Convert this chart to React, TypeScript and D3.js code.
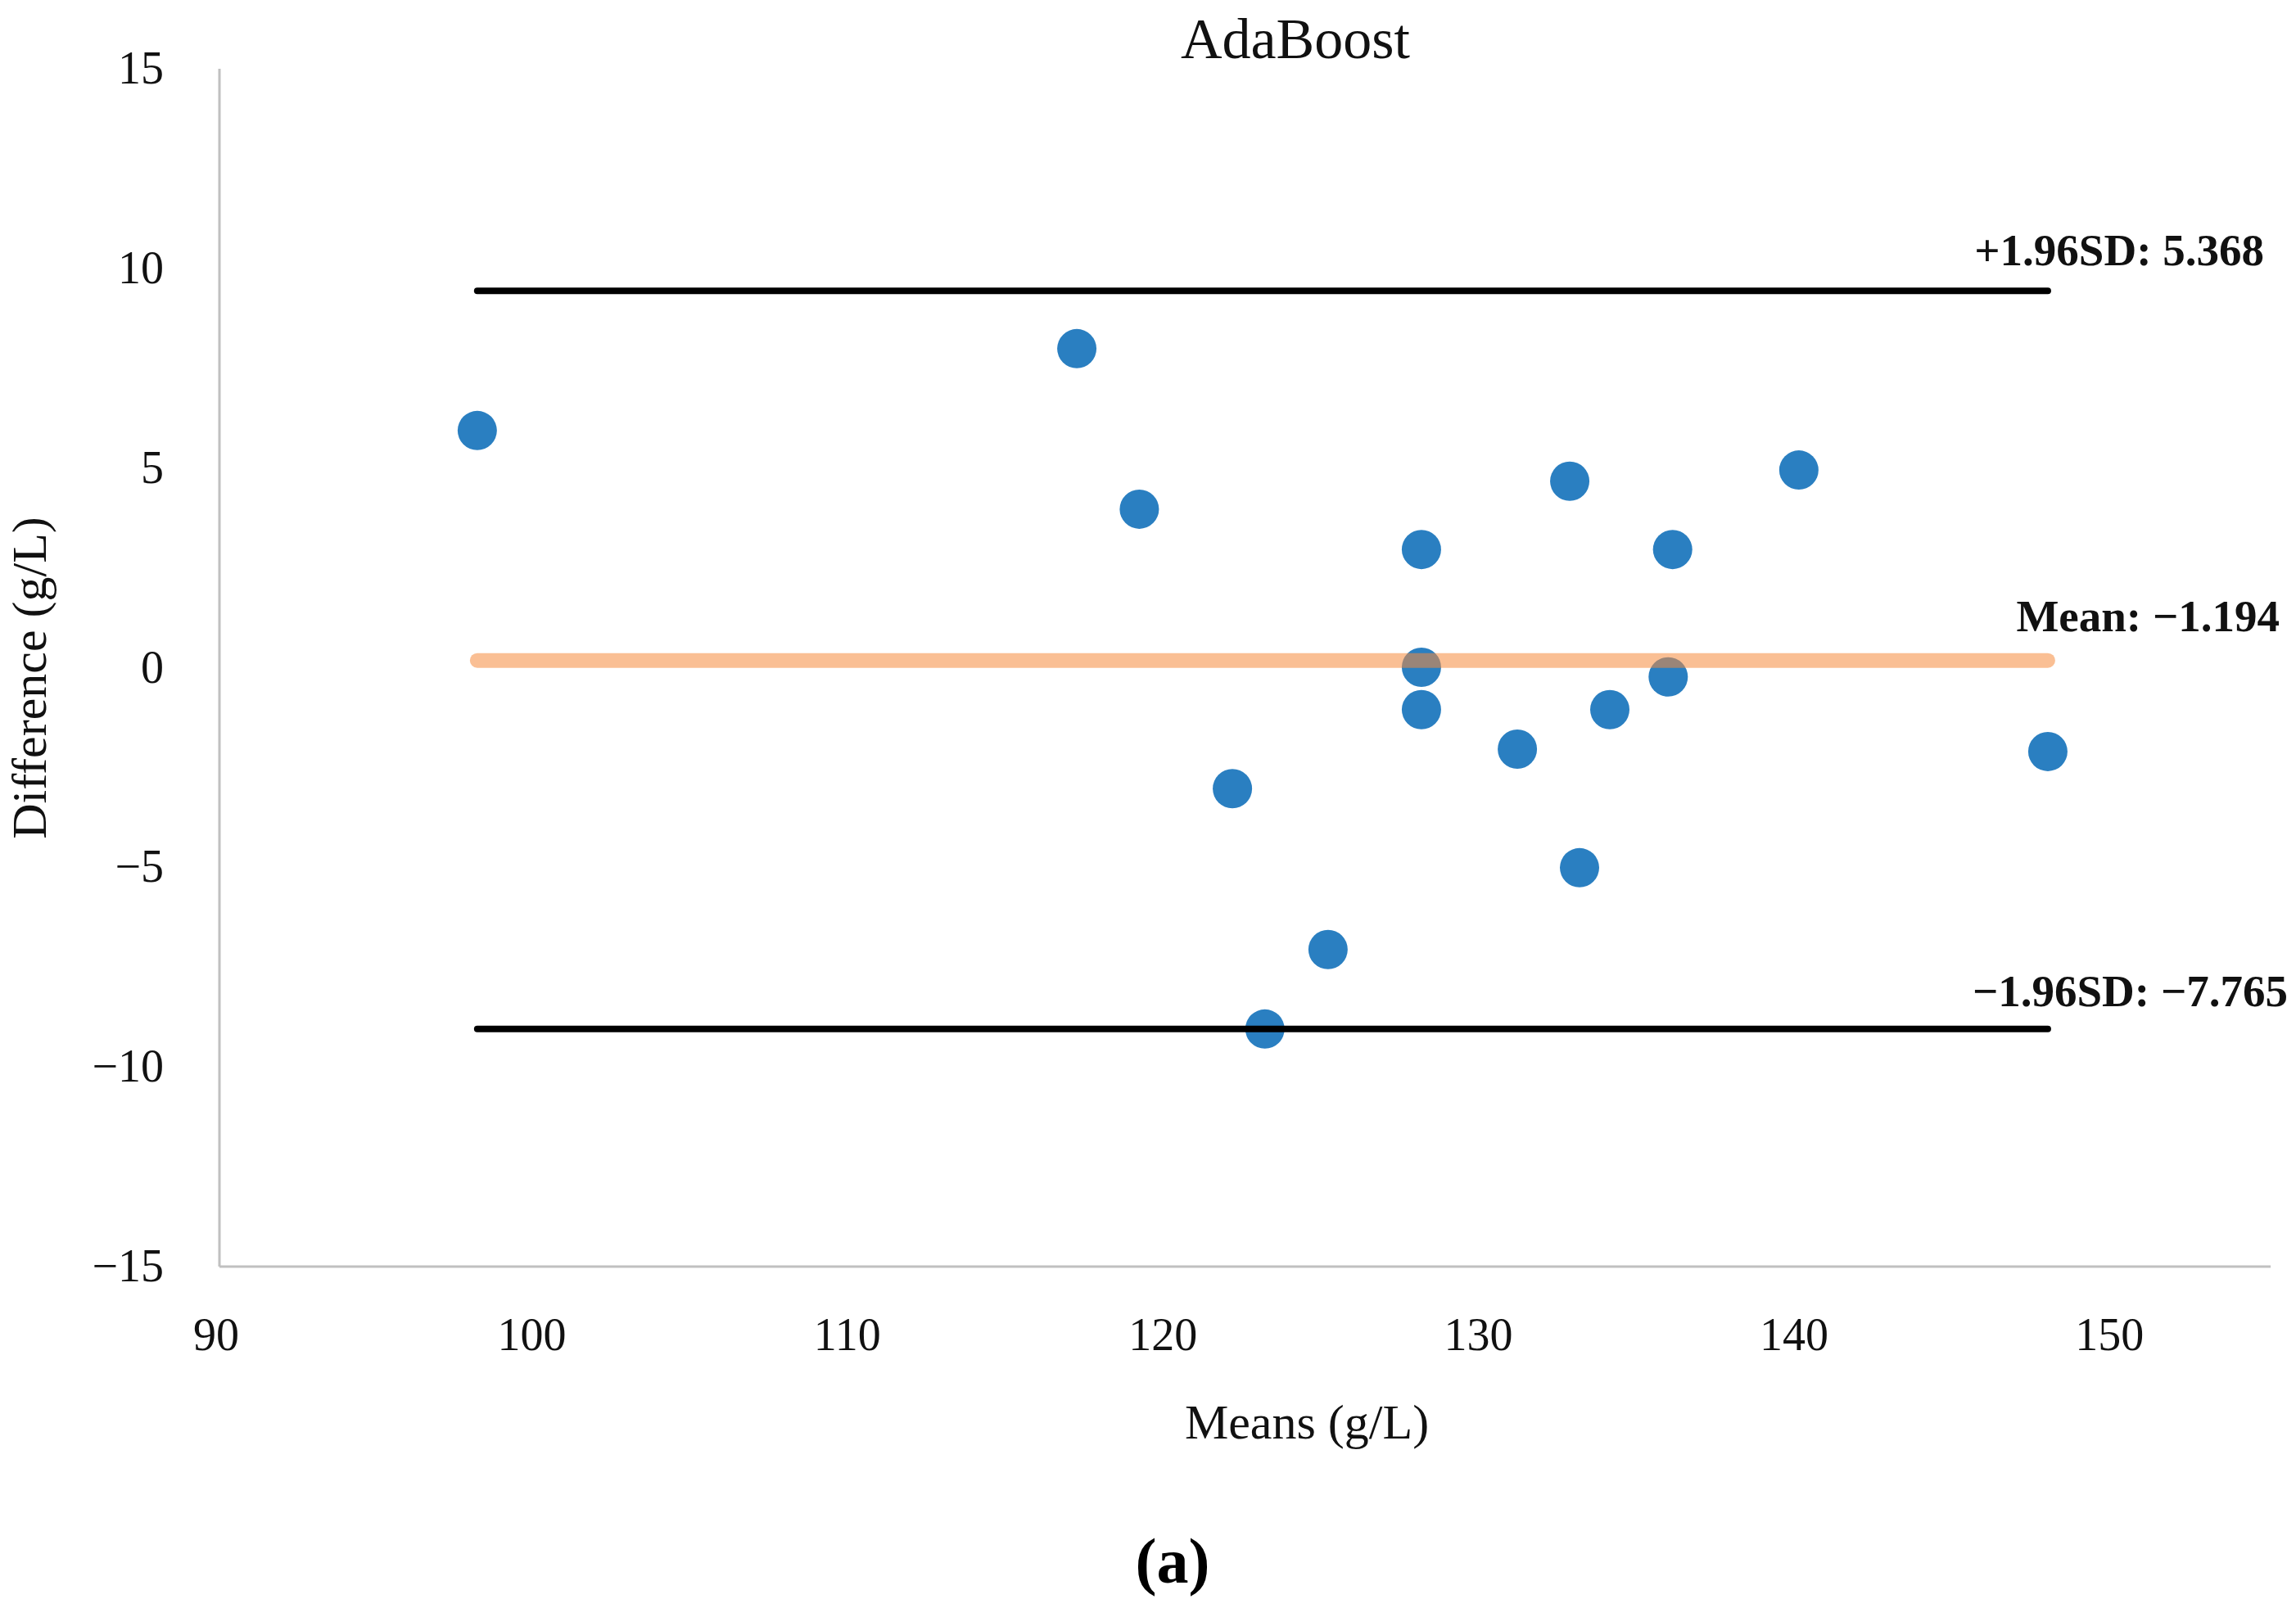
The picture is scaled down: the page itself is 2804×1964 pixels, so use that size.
import React, { useEffect, useRef } from "react";
import * as d3 from "d3";

// Bland-Altman points: mean of the two methods vs their difference (g/L)
const means = [
  98.17, 117.17, 119.15, 122.1, 123.13, 125.13, 128.09, 128.09, 128.09,
  131.13, 132.79, 133.1, 134.06, 135.91, 136.05, 140.05, 147.94,
];
const differences = [
  5.94, 7.99, 3.97, -3.03, -9.05, -7.06, 2.96, 0.01, -1.05,
  -2.04, 4.67, -5.01, -1.05, -0.23, 2.96, 4.95, -2.1,
];

// reference lines (position as drawn, label as printed)
const refLevels = [9.44, 0.18, -9.05];
const refLabels = ["+1.96SD: 5.368", "Mean: \u22121.194", "\u22121.96SD: \u22127.765"];

const xTicks = [90, 100, 110, 120, 130, 140, 150];
const yTicks = [15, 10, 5, 0, -5, -10, -15];

const FONT = "'Palatino Linotype', 'Book Antiqua', Palatino, 'Liberation Serif', serif";

const App: React.FC = () => {
  const svgRef = useRef<SVGSVGElement>(null);

  useEffect(() => {
    document.body.style.margin = "0";
    document.body.style.overflow = "hidden";
    if (!svgRef.current) return;

    const width = 2804;
    const height = 1964;

    const svg = d3.select(svgRef.current);
    svg.selectAll("*").remove();
    svg.attr("width", width).attr("height", height).style("background", "#fff");

    const x = d3.scaleLinear().domain([90, 155]).range([268, 2773]);
    const y = d3.scaleLinear().domain([-15, 15]).range([1547, 84]);

    // axis lines
    svg
      .append("line")
      .attr("x1", x(90))
      .attr("x2", x(90))
      .attr("y1", y(15))
      .attr("y2", y(-15))
      .attr("stroke", "#c0c0c0")
      .attr("stroke-width", 3);
    svg
      .append("line")
      .attr("x1", x(90))
      .attr("x2", x(155))
      .attr("y1", y(-15))
      .attr("y2", y(-15))
      .attr("stroke", "#c0c0c0")
      .attr("stroke-width", 3);

    // tick labels
    svg
      .append("g")
      .selectAll("text")
      .data(yTicks)
      .join("text")
      .attr("x", 200)
      .attr("y", (d) => y(d) + 18)
      .attr("text-anchor", "end")
      .attr("font-family", FONT)
      .attr("font-size", 56)
      .attr("fill", "#111")
      .text((d) => (d < 0 ? "\u2212" + Math.abs(d) : String(d)));

    svg
      .append("g")
      .selectAll("text")
      .data(xTicks)
      .join("text")
      .attr("x", (d) => x(d) - 4)
      .attr("y", 1649)
      .attr("text-anchor", "middle")
      .attr("font-family", FONT)
      .attr("font-size", 56)
      .attr("fill", "#111")
      .text((d) => String(d));

    const data = means.map((m, i) => ({ m, d: differences[i] }));
    const [xMin, xMax] = d3.extent(means) as [number, number];

    // points
    svg
      .append("g")
      .selectAll("circle")
      .data(data)
      .join("circle")
      .attr("cx", (p) => x(p.m))
      .attr("cy", (p) => y(p.d))
      .attr("r", 24)
      .attr("fill", "#2a7fc1");

    // limits of agreement (black) and mean (translucent orange, over points)
    const lines = svg.append("g");
    refLevels.forEach((lv, i) => {
      const isMean = i === 1;
      lines
        .append("line")
        .attr("x1", x(xMin))
        .attr("x2", x(xMax))
        .attr("y1", y(lv))
        .attr("y2", y(lv))
        .attr("stroke", isMean ? "#f58a3c" : "#000")
        .attr("stroke-opacity", isMean ? 0.55 : 1)
        .attr("stroke-width", isMean ? 18 : 8)
        .attr("stroke-linecap", "round");
    });

    const labelPos = [
      { x: 2765, y: 324 },
      { x: 2784, y: 771 },
      { x: 2794, y: 1229 },
    ];
    svg
      .append("g")
      .selectAll("text")
      .data(refLabels)
      .join("text")
      .attr("x", (_, i) => labelPos[i].x)
      .attr("y", (_, i) => labelPos[i].y)
      .attr("text-anchor", "end")
      .attr("font-family", FONT)
      .attr("font-weight", "bold")
      .attr("font-size", 55)
      .attr("fill", "#111")
      .text((d) => d);

    // title
    svg
      .append("text")
      .attr("x", 1582)
      .attr("y", 71)
      .attr("text-anchor", "middle")
      .attr("font-family", FONT)
      .attr("font-size", 70)
      .attr("fill", "#111")
      .text("AdaBoost");

    // axis titles
    svg
      .append("text")
      .attr("x", 1596)
      .attr("y", 1757)
      .attr("text-anchor", "middle")
      .attr("font-family", FONT)
      .attr("font-size", 60)
      .attr("fill", "#111")
      .text("Means (g/L)");

    svg
      .append("text")
      .attr("transform", "translate(56, 828) rotate(-90)")
      .attr("text-anchor", "middle")
      .attr("font-family", FONT)
      .attr("font-size", 60)
      .attr("fill", "#111")
      .text("Difference (g/L)");

    // panel letter
    svg
      .append("text")
      .attr("x", 1432)
      .attr("y", 1933)
      .attr("text-anchor", "middle")
      .attr("font-family", FONT)
      .attr("font-weight", "bold")
      .attr("font-size", 78)
      .attr("fill", "#000")
      .text("(a)");
  }, []);

  return <svg ref={svgRef} style={{ display: "block" }} />;
};

export default App;
